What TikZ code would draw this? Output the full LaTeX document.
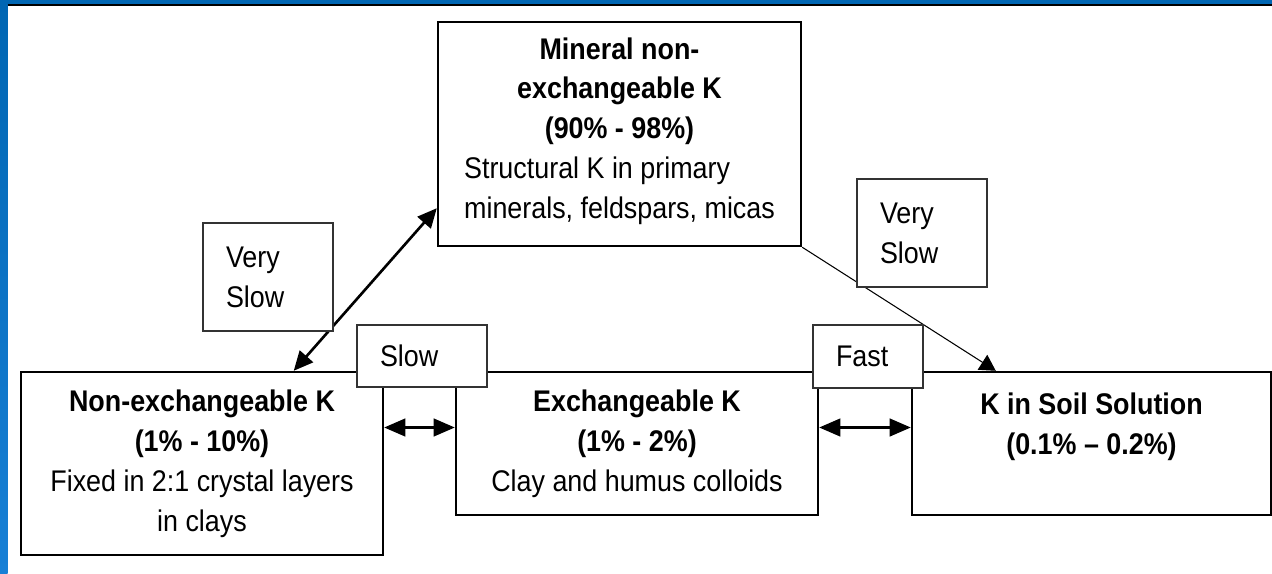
\documentclass[tikz,border=0pt]{standalone}
\usepackage{fontspec}
\setmainfont[FakeStretch=0.9]{Liberation Sans}
\usepackage{tikz}
\usetikzlibrary{arrows.meta, positioning}
\definecolor{frameblue}{RGB}{0,102,179}
\definecolor{framelight}{RGB}{24,128,214}
\tikzstyle{pool}     = [rectangle, draw=black, line width=1.4pt, fill=white,
                        align=center, inner sep=2pt]
\tikzstyle{rate}     = [rectangle, draw=black!80, line width=0.9pt, fill=white,
                        align=left, inner xsep=0.46cm, inner ysep=2pt]
\tikzstyle{swap}     = [line width=1.4pt,
                        {Triangle[length=12pt,width=10pt]}-{Triangle[length=12pt,width=10pt]}]
\tikzstyle{release}  = [line width=1.5pt,
                        {Triangle[length=11pt,width=10pt]}-{Triangle[length=11pt,width=10pt]}]
\tikzstyle{leak}     = [line width=0.6pt, -{Triangle[length=9pt,width=10pt]}]

\begin{document}
\begin{tikzpicture}[x=0.02cm, y=-0.02cm,
                    font=\fontsize{17}{22.7}\selectfont]

  \useasboundingbox (0,0) rectangle (1272,574);

  % Frame
  \shade[top color=frameblue, bottom color=framelight] (0,0) rectangle (7.5,574);
  \fill[frameblue] (0,0) rectangle (1272,4);
  \draw[black, line width=1pt] (7.5,5) -- (1272,5);

  % Mineral pool
  \node[pool, minimum width=7.26cm, minimum height=4.48cm] (mineral) at (619.5,134)
        {\textbf{Mineral non-}\\\textbf{exchangeable K}\\\textbf{(90\% - 98\%)}\\
         \begin{tabular}[t]{@{}l@{}}Structural K in primary\\minerals, feldspars, micas\end{tabular}};

  % Non-exchangeable pool
  \node[pool, minimum width=7.24cm, minimum height=3.66cm] (nonexch) at (202,463.5)
        {\textbf{Non-exchangeable K}\\\textbf{(1\% - 10\%)}\\Fixed in 2:1 crystal layers\\in clays};

  % Exchangeable pool
  \node[pool, minimum width=7.24cm, minimum height=2.86cm] (exch) at (637,443.5)
        {\textbf{Exchangeable K}\\\textbf{(1\% - 2\%)}\\Clay and humus colloids};

  % Soil solution
  \node[pool, minimum width=7.18cm, minimum height=2.86cm] (soil) at (1091.5,443.5)
        {\textbf{K in Soil Solution}\\\textbf{(0.1\% – 0.2\%)}\\\mbox{}};

  % Exchanges
  \draw[release] ([yshift=0.78cm]mineral.south west) -- ([xshift=5.48cm]nonexch.north west);
  \draw[leak] (mineral.south east) -- ([xshift=1.7cm]soil.north west);

  \coordinate (l1) at ([yshift=0.32cm]exch.west);
  \draw[swap] (nonexch.east |- l1) -- (l1);
  \coordinate (l2) at ([yshift=0.32cm]soil.west);
  \draw[swap] (exch.east |- l2) -- (l2);

  % Rates
  \node[rate, text width=1.68cm, minimum height=2.16cm] (vslowl) at (268,277) {Very\\Slow};
  \node[rate, text width=1.68cm, minimum height=2.16cm] (vslowr) at (922,233) {Very\\Slow};
  \node[rate, text width=1.68cm, minimum height=1.24cm] (slow) at (422,356) {Slow};
  \node[rate, text width=1.28cm, minimum height=1.26cm] (fast) at (868,356.5) {Fast};

\end{tikzpicture}
\end{document}
